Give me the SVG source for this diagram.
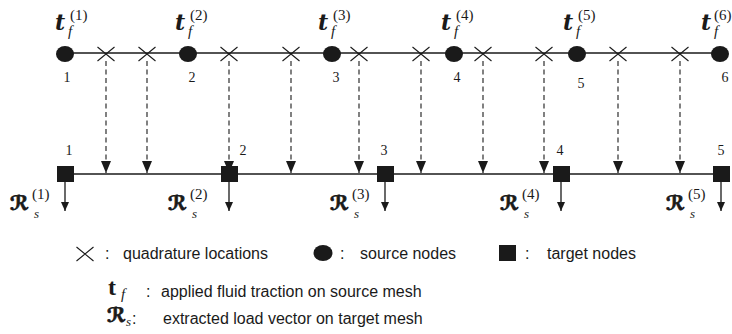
<svg xmlns="http://www.w3.org/2000/svg" width="732" height="334" viewBox="0 0 732 334">
  <style>
    .mesh { stroke: #1a1a1a; stroke-width: 1.3; fill: none; }
    .dash { stroke: #1a1a1a; stroke-width: 1.1; stroke-dasharray: 5 3.5; fill: none; }
    .load { stroke: #1a1a1a; stroke-width: 1.3; fill: none; }
    .cross { stroke: #1a1a1a; stroke-width: 1.1; fill: none; }
    .src { fill: #1a1a1a; }
    .tgt { fill: #1a1a1a; }
    .num { font-family: "Liberation Serif", "DejaVu Serif", serif; font-size: 14px; fill: #1a1a1a; text-anchor: middle; }
    .tvec { font-family: "DejaVu Serif", "Liberation Serif", serif; font-size: 22px; font-weight: bold; font-style: italic; fill: #1a1a1a; }
    .sub { font-family: "Liberation Serif", serif; font-size: 15px; font-style: italic; fill: #1a1a1a; }
    .ssub { font-family: "Liberation Serif", serif; font-size: 13px; font-style: italic; fill: #1a1a1a; }
    .sup { font-family: "Liberation Serif", serif; font-size: 15px; fill: #1a1a1a; }
    .rvec { font-family: "DejaVu Serif", "DejaVu Sans", serif; font-size: 20px; font-weight: bold; fill: #1a1a1a; stroke: #1a1a1a; stroke-width: 0.8; }
    .leg { font-family: "Liberation Sans", Arial, sans-serif; font-size: 16px; fill: #1a1a1a; }
  </style>
  <defs>
    <marker id="head" viewBox="0 0 12 10" refX="12" refY="5" markerWidth="12" markerHeight="10" markerUnits="userSpaceOnUse" orient="auto">
      <path d="M0,0 L12,5 L0,10 Z" fill="#1a1a1a"/>
    </marker>
    <marker id="headSmall" viewBox="0 0 9 8" refX="9" refY="4" markerWidth="9" markerHeight="8" markerUnits="userSpaceOnUse" orient="auto">
      <path d="M0,0 L9,4 L0,8 Z" fill="#1a1a1a"/>
    </marker>
    <path id="x" d="M-8.5,-7 L8.5,7 M-8.5,7 L8.5,-7"/>
  </defs>

  <!-- mesh lines -->
  <g id="meshes">
    <line class="mesh" x1="65" y1="53" x2="720" y2="53"/>
    <line class="mesh" x1="65" y1="174" x2="721" y2="174"/>
  </g>

  <!-- transfer connectors: quadrature points projected onto target mesh -->
  <g id="connectors">
    <line class="dash" x1="106" y1="61" x2="106" y2="173" marker-end="url(#head)"/>
    <line class="dash" x1="147" y1="61" x2="147" y2="173" marker-end="url(#head)"/>
    <line class="dash" x1="229" y1="61" x2="229" y2="173" marker-end="url(#head)"/>
    <line class="dash" x1="291" y1="61" x2="291" y2="173" marker-end="url(#head)"/>
    <line class="dash" x1="359" y1="61" x2="359" y2="173" marker-end="url(#head)"/>
    <line class="dash" x1="421" y1="61" x2="421" y2="173" marker-end="url(#head)"/>
    <line class="dash" x1="483" y1="61" x2="483" y2="173" marker-end="url(#head)"/>
    <line class="dash" x1="544" y1="61" x2="544" y2="173" marker-end="url(#head)"/>
    <line class="dash" x1="618" y1="61" x2="618" y2="173" marker-end="url(#head)"/>
    <line class="dash" x1="680" y1="61" x2="680" y2="173" marker-end="url(#head)"/>
  </g>

  <!-- quadrature locations -->
  <g id="quadrature">
    <use href="#x" class="cross" x="106" y="54"/>
    <use href="#x" class="cross" x="147" y="54"/>
    <use href="#x" class="cross" x="229" y="54"/>
    <use href="#x" class="cross" x="291" y="54"/>
    <use href="#x" class="cross" x="359" y="54"/>
    <use href="#x" class="cross" x="421" y="54"/>
    <use href="#x" class="cross" x="483" y="54"/>
    <use href="#x" class="cross" x="544" y="54"/>
    <use href="#x" class="cross" x="618" y="54"/>
    <use href="#x" class="cross" x="680" y="54"/>
  </g>

  <!-- source nodes -->
  <g id="source-1">
    <ellipse class="src" cx="65" cy="54" rx="9" ry="8"/>
    <text class="num" x="67" y="82">1</text>
    <text class="tvec" x="55" y="30">t</text><text class="sub" x="68" y="36">f</text><text class="sup" x="70" y="20">(1)</text>
  </g>
  <g id="source-2">
    <ellipse class="src" cx="188" cy="54" rx="9" ry="8"/>
    <text class="num" x="192" y="82">2</text>
    <text class="tvec" x="175" y="30">t</text><text class="sub" x="188" y="36">f</text><text class="sup" x="190" y="20">(2)</text>
  </g>
  <g id="source-3">
    <ellipse class="src" cx="332" cy="54" rx="9" ry="8"/>
    <text class="num" x="336" y="82">3</text>
    <text class="tvec" x="318" y="30">t</text><text class="sub" x="331" y="36">f</text><text class="sup" x="333" y="20">(3)</text>
  </g>
  <g id="source-4">
    <ellipse class="src" cx="454" cy="54" rx="9" ry="8"/>
    <text class="num" x="457" y="82">4</text>
    <text class="tvec" x="441" y="30">t</text><text class="sub" x="454" y="36">f</text><text class="sup" x="456" y="20">(4)</text>
  </g>
  <g id="source-5">
    <ellipse class="src" cx="577" cy="54" rx="9" ry="8"/>
    <text class="num" x="581" y="88">5</text>
    <text class="tvec" x="563" y="30">t</text><text class="sub" x="576" y="36">f</text><text class="sup" x="578" y="20">(5)</text>
  </g>
  <g id="source-6">
    <ellipse class="src" cx="720" cy="54" rx="9" ry="8"/>
    <text class="num" x="725" y="82">6</text>
    <text class="tvec" x="701" y="30">t</text><text class="sub" x="714" y="36">f</text><text class="sup" x="714" y="20">(6)</text>
  </g>

  <!-- target nodes with extracted load vectors -->
  <g id="target-1">
    <rect class="tgt" x="57" y="166" width="17" height="16"/>
    <line class="load" x1="65" y1="182" x2="65" y2="211" marker-end="url(#headSmall)"/>
    <text class="num" x="69" y="155">1</text>
    <text class="rvec" x="10" y="210">ℛ</text><text class="ssub" x="34" y="218">s</text><text class="sup" x="32" y="199">(1)</text>
  </g>
  <g id="target-2">
    <rect class="tgt" x="221" y="166" width="17" height="16"/>
    <line class="load" x1="229" y1="182" x2="229" y2="211" marker-end="url(#headSmall)"/>
    <text class="num" x="243" y="155">2</text>
    <text class="rvec" x="168" y="210">ℛ</text><text class="ssub" x="192" y="218">s</text><text class="sup" x="190" y="199">(2)</text>
  </g>
  <g id="target-3">
    <rect class="tgt" x="377" y="166" width="17" height="16"/>
    <line class="load" x1="385" y1="182" x2="385" y2="211" marker-end="url(#headSmall)"/>
    <text class="num" x="384" y="155">3</text>
    <text class="rvec" x="330" y="210">ℛ</text><text class="ssub" x="354" y="218">s</text><text class="sup" x="352" y="199">(3)</text>
  </g>
  <g id="target-4">
    <rect class="tgt" x="553" y="166" width="17" height="16"/>
    <line class="load" x1="561" y1="182" x2="561" y2="211" marker-end="url(#headSmall)"/>
    <text class="num" x="560" y="155">4</text>
    <text class="rvec" x="500" y="210">ℛ</text><text class="ssub" x="524" y="218">s</text><text class="sup" x="522" y="199">(4)</text>
  </g>
  <g id="target-5">
    <rect class="tgt" x="713" y="166" width="17" height="16"/>
    <line class="load" x1="721" y1="182" x2="721" y2="211" marker-end="url(#headSmall)"/>
    <text class="num" x="721" y="155">5</text>
    <text class="rvec" x="666" y="210">ℛ</text><text class="ssub" x="690" y="218">s</text><text class="sup" x="688" y="199">(5)</text>
  </g>

  <!-- legend -->
  <g id="legend">
    <use href="#x" class="cross" x="85" y="254"/>
    <text class="leg" x="105" y="259">:</text>
    <text class="leg" x="123" y="259">quadrature locations</text>
    <ellipse class="src" cx="323" cy="253" rx="9.5" ry="8"/>
    <text class="leg" x="340" y="259">:</text>
    <text class="leg" x="360" y="259">source nodes</text>
    <rect class="tgt" x="499" y="245" width="17" height="16"/>
    <text class="leg" x="525" y="259">:</text>
    <text class="leg" x="547" y="259">target nodes</text>

    <text x="108" y="295" font-family="Liberation Serif, serif" font-size="24" font-weight="bold" fill="#1a1a1a">t</text>
    <text class="sub" x="121" y="299">f</text>
    <text class="leg" x="146" y="297">:</text>
    <text class="leg" x="161" y="297">applied fluid traction on source mesh</text>

    <text class="rvec" x="107" y="322">ℛ</text>
    <text class="ssub" x="126" y="326" font-size="12">s</text>
    <text class="leg" x="132" y="324">:</text>
    <text class="leg" x="163" y="324">extracted load vector on target mesh</text>
  </g>
</svg>
